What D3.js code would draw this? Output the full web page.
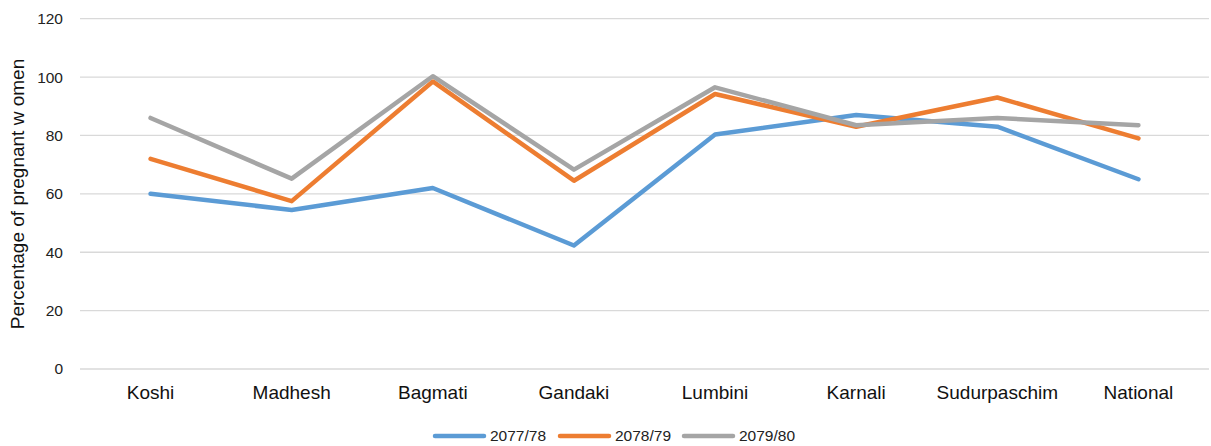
<!DOCTYPE html>
<html><head><meta charset="utf-8">
<script src="https://cdn.jsdelivr.net/npm/d3@7"></script>
<style>body{margin:0;background:#fff}svg{display:block;font-family:"Liberation Sans",Arial,sans-serif}</style>
</head><body><svg id="c" width="1211" height="446"></svg>
<script>
const categories = ["Koshi","Madhesh","Bagmati","Gandaki","Lumbini","Karnali","Sudurpaschim","National"];
const seriesNames = ["2077/78","2078/79","2079/80"];
const s2077 = [60, 54.5, 62, 42.3, 80.3, 87, 83, 65];
const s2078 = [72, 57.5, 98.5, 64.5, 94.2, 83, 93, 79];
const s2079 = [86, 65.2, 100.3, 68.3, 96.5, 83.5, 86, 83.5];
const yTicks = [0,20,40,60,80,100,120];
const colors = ["#5B9BD5","#ED7D31","#A5A5A5"];
const yLabel = "Percentage of pregnant w omen";

const svg = d3.select("#c");
const x = d3.scaleBand().domain(categories).range([80,1209]);
const y = d3.scaleLinear().domain([0,120]).range([369,18.7]);

svg.append("g").selectAll("line").data(yTicks).join("line")
  .attr("x1",80).attr("x2",1209).attr("y1",d=>y(d)).attr("y2",d=>y(d))
  .attr("stroke","#d9d9d9").attr("stroke-width",1.3);

svg.append("g").selectAll("text").data(yTicks).join("text")
  .attr("x",63).attr("y",d=>y(d)).attr("dy","0.35em").attr("text-anchor","end")
  .attr("font-size",15.5).attr("fill","#222").text(d=>d);

svg.append("g").selectAll("text").data(categories).join("text")
  .attr("x",d=>x(d)+x.bandwidth()/2).attr("y",399).attr("text-anchor","middle")
  .attr("font-size",19).attr("fill","#111").text(d=>d);

svg.append("text").attr("transform","translate(24,194) rotate(-90)")
  .attr("text-anchor","middle").attr("font-size",19).attr("fill","#111").text(yLabel);

const data = [s2077,s2078,s2079];
const line = d3.line().x((d,i)=>x(categories[i])+x.bandwidth()/2).y(d=>y(d));
svg.append("g").selectAll("path").data(data).join("path")
  .attr("d",line).attr("fill","none").attr("stroke",(d,i)=>colors[i])
  .attr("stroke-width",4.5).attr("stroke-linejoin","round").attr("stroke-linecap","round");

const legX = [435,560,684];
const lg = svg.append("g").selectAll("g").data(seriesNames).join("g")
  .attr("transform",(d,i)=>`translate(${legX[i]},436)`);
lg.append("line").attr("x1",0).attr("x2",49).attr("stroke",(d,i)=>colors[i])
  .attr("stroke-width",4.5).attr("stroke-linecap","round");
lg.append("text").attr("x",55).attr("dy","0.35em").attr("font-size",15.5).attr("fill","#222").text(d=>d);
</script></body></html>
